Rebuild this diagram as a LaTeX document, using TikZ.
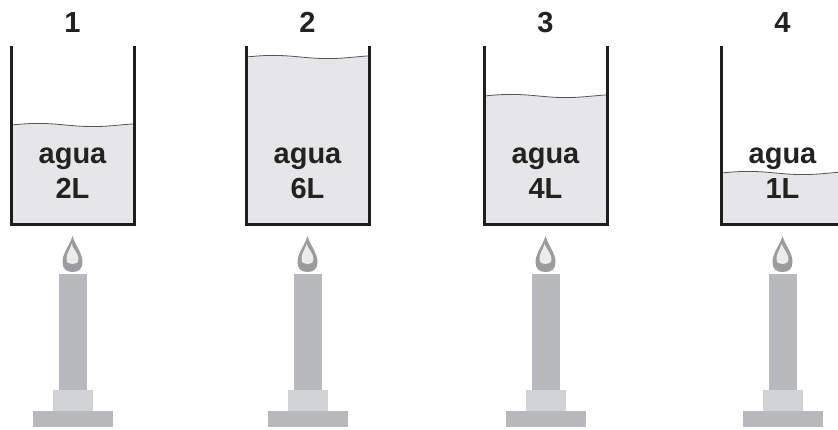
\documentclass[tikz,border=0pt]{standalone}
\usepackage{fontspec}
\setmainfont{Liberation Sans}
\definecolor{wallc}{HTML}{1E1E1E}
\definecolor{waterc}{HTML}{E6E6E8}
\definecolor{wavec}{HTML}{555555}
\definecolor{candlec}{HTML}{B8B9BC}
\definecolor{basetop}{HTML}{D2D3D5}
\definecolor{flameout}{HTML}{9C9C9E}
\definecolor{flamein}{HTML}{ECECEC}
\definecolor{txtc}{HTML}{222222}
\begin{document}
\begin{tikzpicture}[x=1pt,y=-1pt,
  wall/.style={line width=3pt, draw=wallc, line join=miter},
  water/.style={fill=waterc},
  wave/.style={draw=wavec, line width=0.8pt},
  body/.style={fill=candlec},
  collar/.style={fill=basetop},
  foot/.style={fill=candlec},
  flame/.style={fill=flameout},
  flamecore/.style={fill=flamein},
  txt/.style={text=txtc, font=\bfseries\fontsize{29}{29}\selectfont, inner sep=0pt, anchor=base}
]
\useasboundingbox (0,0) rectangle (838,430);
\clip (0,0) rectangle (838,430);

% beaker left edge / water level / number / volume
\foreach \L/\s/\n/\v in {11/125/1/2L, 246/57/2/6L, 484/96/3/4L, 721/173/4/1L}{
  \pgfmathsetmacro\c{\L+61.5}
  \pgfmathsetmacro\R{\L+123}
  % water with a wavy surface
  \fill[water] plot[domain=\L:\R, samples=60, smooth] (\x,{\s-1.6*sin((\x-\L)*3.3)})
      -- (\R,225) -- (\L,225) -- cycle;
  \draw[wave] plot[domain=\L:\R, samples=60, smooth] (\x,{\s-1.6*sin((\x-\L)*3.3)});
  % beaker walls
  \draw[wall] (\L,46) -- (\L,225) -- (\R,225) -- (\R,46);
  % labels
  \node[txt] (num\n) at (\c,33) {\n};
  \node[txt] (agua\n) at (\c,164) {agua};
  \node[txt] (vol\n) at (\c,199) {\v};
  % candle
  \fill[foot] (\c-40,411) rectangle (\c+40,427);
  \fill[collar] (\c-20,390) rectangle (\c+20,411);
  \fill[body] (\c-14,274) rectangle (\c+14,390);
  % flame
  \fill[flame] (\c,236) .. controls (\c+3,246) and (\c+10,253) .. (\c+10,262)
      .. controls (\c+10,269) and (\c+6,272) .. (\c,272)
      .. controls (\c-6,272) and (\c-10,269) .. (\c-10,262)
      .. controls (\c-10,253) and (\c-3,246) .. (\c,236) -- cycle;
  \fill[flamecore] (\c-1,244) .. controls (\c+1,249) and (\c+6,254) .. (\c+6,259)
      .. controls (\c+6,263) and (\c+3,264) .. (\c,264)
      .. controls (\c-3,264) and (\c-6,263) .. (\c-6,259)
      .. controls (\c-6,253) and (\c-2,249) .. (\c-1,244) -- cycle;
}
\end{tikzpicture}
\end{document}
